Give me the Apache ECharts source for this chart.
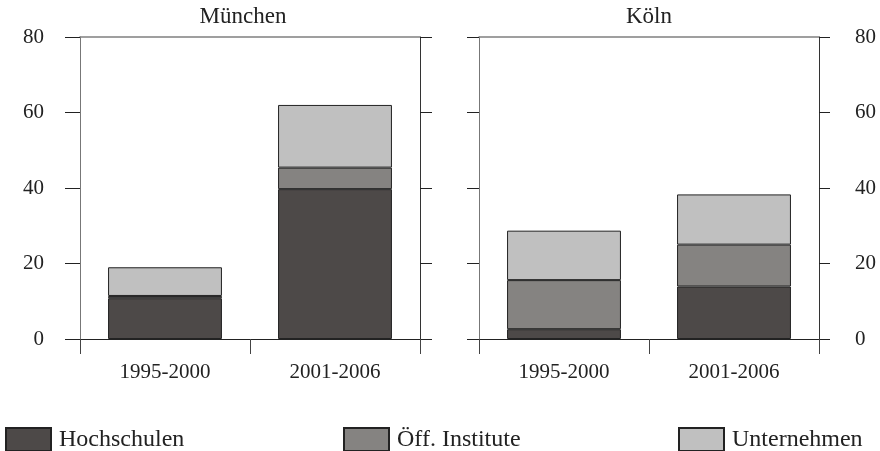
<!DOCTYPE html>
<html>
<head>
<meta charset="utf-8">
<script src="https://cdn.jsdelivr.net/npm/echarts@6/dist/echarts.min.js"></script>
<style>
  html, body { margin: 0; padding: 0; background: #fff; }
  #chart { width: 880px; height: 451px; }
</style>
</head>
<body>
<div id="chart"></div>
<script>
  // Daten
  var periods = ['1995-2000', '2001-2006'];
  var panelTitles = ['München', 'Köln'];
  var seriesNames = ['Hochschulen', 'Öff. Institute', 'Unternehmen'];
  var muenchenHochschulen = [10.8, 39.7];
  var muenchenInstitute = [0.6, 5.7];
  var muenchenUnternehmen = [7.6, 16.6];
  var koelnHochschulen = [2.6, 13.9];
  var koelnInstitute = [13.0, 11.1];
  var koelnUnternehmen = [13.1, 13.3];
  var yTicks = [0, 20, 40, 60, 80];

  var colors = ['#4d4948', '#858381', '#c0c0c0'];
  var font = 'Liberation Serif, Times New Roman, serif';

  var chart = echarts.init(document.getElementById('chart'));

  var grids = [
    { left: 80, width: 340, top: 37, bottom: 112 },
    { left: 479, width: 340, top: 37, bottom: 112 }
  ];
  var titleCenters = [243, 649];

  function xAxes(gridIndex) {
    return [
      {
        type: 'category', gridIndex: gridIndex, data: periods, position: 'bottom',
        axisLine: { onZero: false, lineStyle: { color: '#222', width: 1 } },
        axisTick: { show: true, length: 15, lineStyle: { color: '#444' } },
        axisLabel: { margin: 23, fontFamily: font, fontSize: 21, color: '#222' }
      },
      {
        type: 'category', gridIndex: gridIndex, data: periods, position: 'top',
        axisLine: { onZero: false, lineStyle: { color: '#808080', width: 1.5 } },
        axisTick: { show: false }, axisLabel: { show: false }
      }
    ];
  }

  function yAxes(gridIndex, labelsRight) {
    var base = {
      type: 'value', gridIndex: gridIndex, min: yTicks[0], max: yTicks[yTicks.length - 1],
      interval: 20, splitLine: { show: false }
    };
    return [
      Object.assign({}, base, {
        position: 'left',
        axisLine: { show: true, onZero: false, lineStyle: { color: '#777', width: 1 } },
        axisTick: { show: true, length: gridIndex === 0 ? 15 : 12, lineStyle: { color: '#222' } },
        axisLabel: { show: !labelsRight, margin: 36, fontFamily: font, fontSize: 21, color: '#222' }
      }),
      Object.assign({}, base, {
        position: 'right',
        axisLine: { show: true, onZero: false, lineStyle: { color: '#333', width: 1 } },
        axisTick: { show: true, length: gridIndex === 0 ? 12 : 11, lineStyle: { color: '#222' } },
        axisLabel: { show: labelsRight, margin: 36, fontFamily: font, fontSize: 21, color: '#222' }
      })
    ];
  }

  function bars(gridIndex, values) {
    return values.map(function (d, i) {
      return {
        name: seriesNames[i], type: 'bar', stack: 'g' + gridIndex,
        xAxisIndex: gridIndex * 2, yAxisIndex: gridIndex * 2,
        barWidth: '67%', data: d,
        itemStyle: { color: colors[i], borderColor: '#222', borderWidth: 1 }
      };
    });
  }

  var legendLeft = [5, 343, 678];

  var option = {
    animation: false,
    title: panelTitles.map(function (t, i) {
      return {
        text: t, left: titleCenters[i], top: 5, padding: 0, textAlign: 'center',
        textStyle: { fontFamily: font, fontSize: 23, fontWeight: 'normal', color: '#222' }
      };
    }),
    grid: grids,
    legend: seriesNames.map(function (n, i) {
      return {
        data: [n], left: legendLeft[i], top: 427, padding: 0, icon: 'rect',
        itemWidth: 45, itemHeight: 23, selectedMode: false,
        textStyle: { fontFamily: font, fontSize: 24, color: '#222', padding: [0, 0, 0, 3] }
      };
    }),
    xAxis: xAxes(0).concat(xAxes(1)),
    yAxis: yAxes(0, false).concat(yAxes(1, true)),
    series: bars(0, [muenchenHochschulen, muenchenInstitute, muenchenUnternehmen])
      .concat(bars(1, [koelnHochschulen, koelnInstitute, koelnUnternehmen]))
  };

  chart.setOption(option);
</script>
</body>
</html>
